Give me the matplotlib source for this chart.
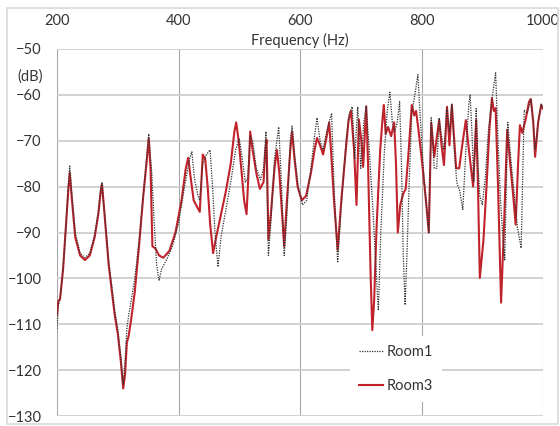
import matplotlib
matplotlib.use('Agg')
import matplotlib.pyplot as plt
from matplotlib.patches import Rectangle

plt.rcParams['font.family'] = ['Lato', 'DejaVu Sans']

# Room3 (solid red) - frequency (Hz) / level (dB)
room3_freq = [200, 202, 205, 210, 215, 219, 221, 224, 230, 238, 246, 254, 262, 268, 272, 274,
              277, 285, 295, 300, 305, 309, 312, 315, 318, 322, 328, 335, 342, 348, 351, 354,
              357, 362, 368, 375, 385, 395, 405, 412, 416, 419, 425, 435, 440, 444, 448, 452,
              457, 462, 470, 478, 486, 492, 495, 499, 504, 508, 512, 516, 518, 522, 528, 534,
              540, 543, 545, 548, 552, 558, 562, 566, 571, 574, 578, 584, 587, 591, 596, 603,
              610, 618, 624, 628, 633, 638, 644, 648, 651, 656, 662, 668, 676, 680, 684, 689,
              693, 697, 701, 704, 709, 712, 716, 719, 722, 726, 732, 736, 738, 741, 745, 750,
              755, 758, 761, 765, 770, 774, 779, 784, 788, 791, 795, 802, 808, 812, 816, 821,
              829, 833, 837, 842, 846, 850, 854, 857, 862, 867, 873, 878, 885, 890, 893, 896,
              902, 907, 912, 916, 919, 922, 926, 931, 936, 941, 946, 951, 955, 959, 962, 966,
              972, 977, 980, 984, 987, 992, 997, 1000]
room3_db = [-108, -105, -104.5, -98, -88, -80, -77, -82, -91, -95, -96, -95, -91, -86, -81, -79.5,
            -84, -97, -108, -112, -118, -124, -121, -114, -112.5, -109, -103, -93, -82, -74, -69.5, -76,
            -93, -93.5, -95, -95.5, -94, -90, -83, -76, -73.7, -77, -83, -85.5, -73, -74, -80, -88,
            -94.5, -91, -86, -81, -75, -68, -66, -70, -77, -83, -86, -75, -68, -72, -77, -80.5,
            -79, -72, -69.8, -91.6, -86, -76, -72, -77, -87, -93, -84, -72, -68, -74, -80, -83,
            -82, -77, -72, -69.4, -71, -73, -69, -66, -72, -83, -93.8, -83, -71, -65.5, -63.5, -72,
            -84, -65.4, -70, -75.7, -62.5, -75, -98, -111.3, -105, -89, -72, -65, -62.2, -68.5, -67, -69,
            -66, -75, -90, -84, -81.5, -80.5, -72, -62.2, -64.5, -63.5, -67.6, -76, -84, -90, -66, -73.5,
            -65.5, -71, -75.3, -62.6, -71, -62.2, -70, -76, -76, -71, -65.5, -72, -80, -65.5, -80, -99.9,
            -91.6, -80, -67, -60.7, -63.5, -62.9, -80, -105.3, -88, -67.6, -75, -82, -88.3, -75, -66.6, -68.3,
            -65, -61.5, -60.9, -66, -73.5, -66, -62.2, -63]

# Room1 (dotted black)
room1_freq = [200, 202, 205, 210, 215, 219, 221, 224, 230, 238, 246, 254, 262, 268, 272, 274,
              277, 285, 295, 300, 305, 309, 312, 315, 318, 322, 328, 335, 342, 348, 351, 354,
              356, 360, 364, 368, 372, 380, 390, 400, 410, 418, 422, 426, 432, 435, 440, 446,
              452, 456, 460, 465, 470, 478, 486, 494, 500, 505, 510, 514, 518, 522, 528, 535,
              540, 544, 548, 552, 558, 565, 569, 574, 579, 584, 587, 591, 597, 604, 611, 618,
              624, 628, 633, 638, 644, 652, 656, 662, 668, 676, 681, 686, 690, 695, 700, 705,
              709, 714, 720, 726, 729, 733, 739, 744, 748, 752, 756, 760, 764, 767, 770, 773,
              776, 780, 784, 789, 794, 798, 804, 808, 812, 816, 821, 825, 829, 833, 837, 842,
              846, 850, 854, 858, 863, 868, 873, 878, 880, 883, 886, 890, 893, 896, 900, 905,
              910, 916, 922, 926, 930, 934, 937, 942, 947, 953, 958, 964, 969, 974, 980, 984,
              987, 992, 997, 1000]
room1_db = [-111, -106, -104.5, -98, -88, -79, -75.5, -81, -90, -94.5, -95.5, -94.5, -90.5, -85.5, -80.5, -79,
            -84, -96, -107, -111, -117, -123, -118, -111, -108, -105, -100, -92, -82, -73, -68.5, -74,
            -77, -88, -97, -100.5, -98, -96, -93, -88, -80, -74, -72.4, -78, -82, -83, -75, -73,
            -72, -80, -90, -97.5, -91, -85, -79, -72, -69.5, -74, -79, -78, -69, -70, -76, -78.5,
            -76, -68, -95, -88, -74, -67, -78, -95, -85, -70, -66.8, -73, -80, -84, -83, -76,
            -69, -65, -70, -72, -68, -64, -80, -96.6, -84, -70, -64, -62.6, -74, -62.6, -76, -66,
            -62.5, -72, -85, -100, -107, -90, -72, -63, -59.4, -66, -68, -66, -61.5, -75, -95, -105.8,
            -95, -78, -64, -60, -55.6, -65, -78, -84, -90, -65, -76, -76, -65, -69, -72, -63,
            -68, -62, -72, -79, -81, -85, -72, -62, -60, -68, -79, -63, -75, -82, -84, -78,
            -68, -61, -55.2, -70, -83, -91, -96, -66, -74, -82, -89, -93.4, -63.3, -64, -61, -66,
            -72, -66, -62, -63]

xticks = [200, 400, 600, 800, 1000]
yticks = [-130, -120, -110, -100, -90, -80, -70, -60, -50]

fig = plt.figure(figsize=(5.6, 4.26), dpi=100)
fig.patches.append(Rectangle((7 / 560, 2 / 426), 551 / 560, 416 / 426, transform=fig.transFigure,
                             fill=False, edgecolor='#d9d9d9', linewidth=1.2))
ax = fig.add_axes([57 / 560, 10 / 426, 486 / 560, 367 / 426])

ax.plot(room1_freq, room1_db, color='#303030', linestyle=(0, (1, 1)), linewidth=0.9, label='Room1', zorder=3)
ax.plot(room3_freq, room3_db, color='#c0232b', linewidth=1.5, label='Room3', zorder=2)

ax.set_xlim(200, 1000)
ax.set_ylim(-130, -50)
ax.set_xticks(xticks)
ax.set_yticks(yticks)
ax.xaxis.tick_top()
ax.tick_params(axis='both', length=0, labelsize=10.5, labelcolor='#333333')
ax.tick_params(axis='x', pad=15)
ax.tick_params(axis='y', pad=11)
for s in ax.spines.values():
    s.set_visible(False)
ax.grid(axis='y', color='#cfcfcf', linewidth=1.3, zorder=0)
ax.grid(axis='x', color='#a8a8a8', linewidth=0.8, zorder=0)
ax.set_axisbelow(True)

ax.text(0.5, 1.003, 'Frequency (Hz)', transform=ax.transAxes, ha='center', va='bottom',
        fontsize=10.5, color='#333333')
ax.text(-0.03, 0.925, '(dB)', transform=ax.transAxes, ha='right', va='center',
        fontsize=10.5, color='#333333')

leg = ax.legend(loc='center', bbox_to_anchor=(0.698, 0.128), frameon=True, fontsize=10.5,
                handlelength=1.6, handletextpad=0.3, labelspacing=1.4, borderpad=0.6)
leg.get_frame().set_facecolor('white')
leg.get_frame().set_edgecolor('none')
leg.get_frame().set_alpha(1)
for t in leg.get_texts():
    t.set_color('#333333')

fig.savefig('out.png', dpi=100)
